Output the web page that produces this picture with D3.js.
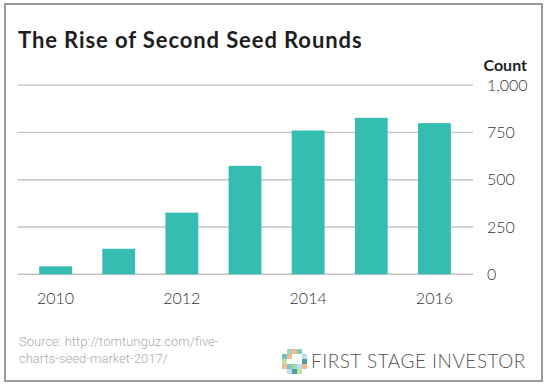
<!DOCTYPE html>
<html>
<head>
<meta charset="utf-8">
<script src="https://cdn.jsdelivr.net/npm/d3@7"></script>
<style>
  body { margin: 0; background: #fff; }
  svg { display: block; }
</style>
</head>
<body>
<script>
// data
var years = [2010, 2011, 2012, 2013, 2014, 2015, 2016];
var counts = [42, 135, 326, 573, 760, 827, 799];
var yTicks = [0, 250, 500, 750, 1000];
var xTickYears = [2010, 2012, 2014, 2016];

var width = 550, height = 389;

var svg = d3.select("body").append("svg")
    .attr("width", width)
    .attr("height", height);

svg.append("rect")
    .attr("width", width).attr("height", height)
    .style("fill", "#fff");

// frame
svg.append("rect")
    .attr("x", 5).attr("y", 4)
    .attr("width", 537).attr("height", 377)
    .style("fill", "none")
    .style("stroke", "#9a9a9a")
    .style("stroke-width", "2px");

svg.append("text")
    .attr("x", 18).attr("y", 48)
    .style("font-family", "Lato, sans-serif")
    .style("font-weight", "bold")
    .style("font-size", "22px")
    .style("letter-spacing", "0.9px")
    .style("fill", "#1e1e1e")
    .text("The Rise of Second Seed Rounds");

var x = d3.scaleBand()
    .domain(years)
    .range([24, 466])
    .paddingInner(0.48)
    .paddingOuter(0.24);

var y = d3.scaleLinear()
    .domain([0, 1000])
    .range([274.3, 85.1]);

// grid lines
svg.selectAll("line.grid")
    .data(yTicks)
  .enter().append("line")
    .attr("class", "grid")
    .attr("x1", 17.5).attr("x2", 473)
    .attr("y1", function(d) { return y(d); })
    .attr("y2", function(d) { return y(d); })
    .style("stroke", "#c4c4c4")
    .style("stroke-width", "1.4px");

svg.selectAll("text.ytick")
    .data(yTicks)
  .enter().append("text")
    .attr("class", "ytick")
    .attr("x", 487)
    .attr("y", function(d) { return y(d); })
    .attr("dy", "0.36em")
    .style("font-family", "Lato, sans-serif")
    .style("font-weight", "300")
    .style("font-size", "16px")
    .style("fill", "#333")
    .text(d3.format(","));

svg.append("text")
    .attr("x", 527).attr("y", 71)
    .attr("text-anchor", "end")
    .style("font-family", "Lato, sans-serif")
    .style("font-weight", "bold")
    .style("font-size", "16px")
    .style("fill", "#1e1e1e")
    .text("Count");

// bars
svg.selectAll("rect.bar")
    .data(counts)
  .enter().append("rect")
    .attr("class", "bar")
    .attr("x", function(d, i) { return x(years[i]); })
    .attr("width", x.bandwidth())
    .attr("y", function(d) { return y(d); })
    .attr("height", function(d) { return y(0) - y(d); })
    .style("fill", "#35bdb2");

svg.selectAll("text.xtick")
    .data(xTickYears)
  .enter().append("text")
    .attr("class", "xtick")
    .attr("x", function(d) { return x(d) + x.bandwidth() / 2; })
    .attr("y", 304)
    .attr("text-anchor", "middle")
    .style("font-family", "Lato, sans-serif")
    .style("font-weight", "300")
    .style("font-size", "16px")
    .style("fill", "#333")
    .text(function(d) { return d; });

// source note
var src = svg.append("text")
    .style("font-family", "Roboto, sans-serif")
    .style("font-weight", "300")
    .style("font-size", "13px")
    .style("fill", "#ababab");
src.append("tspan").attr("x", 19).attr("y", 346).text("Source: http://tomtunguz.com/five-");
src.append("tspan").attr("x", 19).attr("y", 363).text("charts-seed-market-2017/");

// logo mosaic
var logoColors = [
  [null, "#9fd4b4", "#f5b98e", "#7cc9c6", null],
  ["#6fbfbf", "#f5b98e", "#fff", "#fff", "#b9dfe8"],
  ["#c5e2a2", "#fff", "#fff", "#fff", "#4f9aa3"],
  ["#f5b98e", "#7cc9c6", "#9fd4b4", "#b9dfe8", "#f5b98e"],
  [null, "#b9dfe8", "#4f9aa3", "#c5e2a2", null]
];
var cell = 5;
var logo = svg.append("g").attr("transform", "translate(282,349)");
logoColors.forEach(function(row, r) {
  row.forEach(function(c, k) {
    if (!c) return;
    logo.append("rect")
      .attr("x", k * cell).attr("y", r * cell)
      .attr("width", cell).attr("height", cell)
      .style("fill", c);
  });
});

svg.append("text")
    .attr("x", 311).attr("y", 368)
    .style("font-family", "Lato, sans-serif")
    .style("font-weight", "300")
    .style("font-size", "19px")
    .style("letter-spacing", "0.5px")
    .style("fill", "#555")
    .text("FIRST STAGE INVESTOR");
</script>
</body>
</html>
